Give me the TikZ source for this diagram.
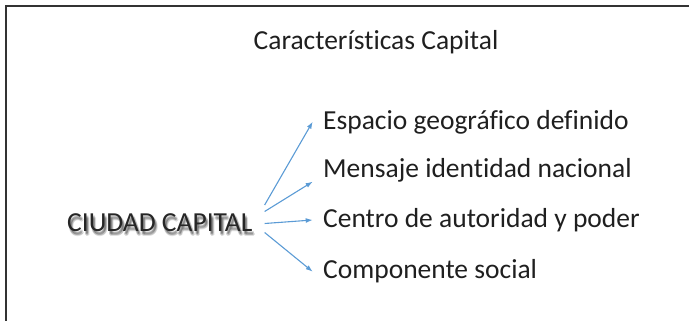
\documentclass[tikz,border=0pt]{standalone}
\usepackage{fontspec}
\setmainfont{Carlito}[Ligatures=NoCommon]
\usetikzlibrary{arrows.meta,calc}
\begin{document}
\begin{tikzpicture}[x=1pt,y=-1pt,
  txt/.style={inner sep=0pt,font=\fontsize{27.5}{30}\selectfont,text=black!88},
  shad/.style={inner sep=0pt,font=\fontsize{27.5}{30}\selectfont,text=black,opacity=0.12},
  arr/.style={draw=arrowblue,line width=1.1pt,-{Latex[length=7pt,width=5pt]}},
  frame/.style={draw=black!80,line width=2pt}]
\definecolor{arrowblue}{HTML}{5B9BD5}
\useasboundingbox (0,0) rectangle (689,321);
\draw[frame] (689,6) -- (6,6) -- (6,321);
\node[txt,anchor=base] (title) at (376,50) {Características Capital};
% soft shadow of the main label
\foreach \dx/\dy in {1/3,2/3,3/4,2/5,1/4,2/2}{
  \node[shad,anchor=base west] at (67+\dx,231+\dy) {CIUDAD CAPITAL};
}
\node[txt,anchor=base west,text=black!85] (city) at (67,231) {CIUDAD CAPITAL};
\node[txt,anchor=base west] (i1) at (323,129) {Espacio geográfico definido};
\node[txt,anchor=base west] (i2) at (323,177) {Mensaje identidad nacional};
\node[txt,anchor=base west] (i3) at (323,227) {Centro de autoridad y poder};
\node[txt,anchor=base west] (i4) at (323,278) {Componente social};
\draw[arr] ($(city.base east)+(12,-26)$) -- ($(i1.base west)+(-10.3,-7.3)$);
\draw[arr] ($(city.base east)+(12,-19.5)$) -- ($(i2.base west)+(-10.3,4.7)$);
\draw[arr] ($(city.base east)+(12,-7.5)$) -- ($(i3.base west)+(-10.3,-7)$);
\draw[arr] ($(city.base east)+(12,1.5)$) -- ($(i4.base west)+(-10.3,-6.3)$);
\end{tikzpicture}
\end{document}
